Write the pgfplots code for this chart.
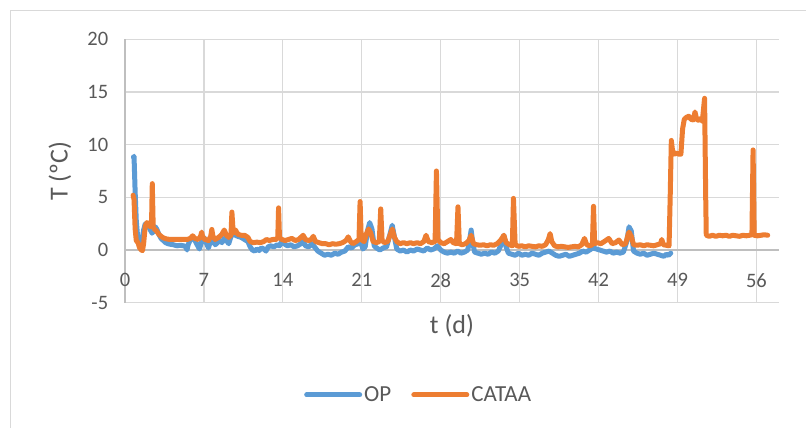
\documentclass[border=0pt]{standalone}
\usepackage{fontspec}
\setmainfont{Carlito}
\usepackage{pgfplots}
\pgfplotsset{compat=1.18}
\definecolor{opblue}{HTML}{5B9BD5}
\definecolor{cataa}{HTML}{ED7D31}
\definecolor{gridgray}{HTML}{D9D9D9}
\definecolor{axisgray}{HTML}{BFBFBF}
\definecolor{txtgray}{HTML}{595959}
\begin{document}
\begin{tikzpicture}[x=1pt,y=1pt]
\path[use as bounding box] (0,0) rectangle (806,428);
\fill[white] (0,0) rectangle (806,428);
\draw[gridgray, line width=1.2pt] (10.5,0) -- (10.5,417.5) -- (806,417.5);
\begin{axis}[
  at={(125pt,125.3pt)}, anchor=south west,
  scale only axis, width=654pt, height=263.4pt,
  xmin=0, xmax=58, ymin=-5, ymax=20,
  xtick={0,7,...,56}, ytick={-5,0,...,20},
  axis x line*=middle, axis y line*=left,
  hide obscured x ticks=false, hide obscured y ticks=false,
  axis line style={axisgray, line width=1.2pt},
  major tick length=0pt,
  grid=major, grid style={gridgray, line width=1.2pt},
  /pgf/number format/assume math mode=true,
  ticklabel style={font=\fontsize{20.5}{24}\selectfont, text=txtgray},
  xticklabel style={yshift=-20pt},
  yticklabel style={xshift=-13.3pt},
  xlabel={t (d)}, ylabel={T (ºC)},
  label style={font=\fontsize{26}{30}\selectfont, text=txtgray},
  xlabel style={at={(axis description cs:0.5,-0.0873)}, anchor=center},
  ylabel style={at={(axis description cs:-0.0994,0.5)}, anchor=center, rotate=0},
  legend style={at={(axis description cs:0.449,-0.350)}, anchor=center,
    draw=none, fill=none, font=\fontsize{23}{27}\selectfont, text=txtgray,
    /tikz/every even column/.append style={column sep=18pt}},
  legend columns=2,
  legend image code/.code={\draw[#1, line width=5pt, line cap=round] (0pt,0pt) -- (53pt,0pt);},
  every axis plot/.append style={line width=5pt, line join=round, line cap=round, no markers},
  clip=false,
]
\addplot[opblue] coordinates {
(0.75,8.8) (0.8,8.9) (0.9,5.5) (1.0,2.8) (1.1,1.5) (1.2,0.7) (1.35,0.3) (1.5,0.9) (1.65,1.9) (1.8,2.5)
(1.95,2.5) (2.1,2.2) (2.25,1.9) (2.4,1.6) (2.55,1.8) (2.7,2.2) (2.85,1.9) (3.0,1.5) (3.2,1.1) (3.4,0.9)
(3.6,0.7) (3.8,0.6) (4.0,0.55) (4.3,0.5) (4.6,0.4) (4.9,0.45) (5.2,0.4) (5.4,0.3) (5.5,0.0) (5.6,0.5)
(5.8,1.0) (6.0,1.1) (6.2,0.9) (6.4,0.5) (6.6,0.1) (6.8,0.8) (7.0,1.2) (7.2,0.7) (7.4,0.2) (7.6,0.9)
(7.8,1.0) (8.0,0.5) (8.2,0.7) (8.4,0.9) (8.6,0.7) (8.8,1.1) (9.0,0.9) (9.2,0.6) (9.4,1.3) (9.6,1.5)
(9.8,1.4) (10.0,1.3) (10.3,1.2) (10.6,1.0) (10.9,0.8) (11.1,0.3) (11.3,0.0) (11.5,-0.1) (11.7,0.1) (11.9,-0.05)
(12.1,0.2) (12.3,0.1) (12.5,-0.1) (12.7,0.3) (12.9,0.4) (13.2,0.3) (13.5,0.5) (13.7,0.4) (13.9,0.8) (14.1,0.6)
(14.4,0.4) (14.7,0.5) (15.0,0.3) (15.3,0.4) (15.6,0.6) (15.8,0.9) (16.0,0.4) (16.3,0.3) (16.6,0.6) (16.8,0.3)
(17.1,-0.1) (17.4,-0.3) (17.7,-0.5) (18.0,-0.4) (18.3,-0.5) (18.6,-0.3) (18.9,-0.4) (19.2,-0.2) (19.5,-0.1) (19.8,0.3)
(20.1,0.2) (20.4,0.5) (20.7,0.6) (20.9,0.8) (21.1,0.1) (21.3,0.3) (21.5,1.8) (21.7,2.6) (21.9,2.0) (22.1,0.4)
(22.3,0.2) (22.6,0.0) (22.9,0.2) (23.2,0.3) (23.5,1.5) (23.7,2.35) (23.9,1.2) (24.1,0.1) (24.4,-0.1) (24.7,0.0)
(25.0,-0.2) (25.3,0.0) (25.6,-0.1) (25.9,0.1) (26.2,0.0) (26.5,-0.1) (26.8,0.2) (27.1,0.0) (27.4,0.1) (27.7,0.4)
(28.0,0.0) (28.3,-0.2) (28.6,-0.3) (28.9,-0.2) (29.2,-0.3) (29.5,-0.1) (29.8,-0.3) (30.1,-0.2) (30.4,0.0) (30.6,1.2)
(30.7,1.9) (30.8,1.0) (31.0,-0.2) (31.3,-0.3) (31.6,-0.4) (31.9,-0.3) (32.2,-0.4) (32.5,-0.2) (32.8,-0.3) (33.1,-0.1)
(33.4,0.6) (33.6,1.4) (33.8,0.3) (34.0,-0.3) (34.3,-0.4) (34.6,-0.5) (34.9,-0.3) (35.2,-0.5) (35.5,-0.4) (35.8,-0.5)
(36.1,-0.3) (36.4,-0.4) (36.7,-0.5) (37.0,-0.3) (37.3,-0.2) (37.6,-0.1) (37.9,-0.3) (38.2,-0.5) (38.5,-0.6) (38.8,-0.5)
(39.1,-0.4) (39.4,-0.6) (39.7,-0.5) (40.0,-0.4) (40.3,-0.3) (40.6,-0.1) (40.9,-0.2) (41.2,0.0) (41.5,0.2) (41.8,0.1)
(42.1,0.0) (42.4,-0.1) (42.7,-0.2) (43.0,-0.1) (43.3,-0.3) (43.6,-0.2) (43.9,-0.3) (44.2,-0.2) (44.5,0.8) (44.7,2.2)
(44.9,1.8) (45.1,-0.1) (45.4,-0.3) (45.7,-0.4) (46.0,-0.3) (46.3,-0.5) (46.6,-0.4) (46.9,-0.3) (47.2,-0.4) (47.5,-0.5)
(47.8,-0.6) (48.0,-0.4) (48.2,-0.5) (48.4,-0.3)
};
\addlegendentry{OP}
\addplot[cataa] coordinates {
(0.72,5.2) (0.8,4.8) (0.9,2.0) (1.0,0.9) (1.15,0.7) (1.3,0.2) (1.45,0.0) (1.55,-0.05) (1.65,0.6) (1.8,2.3)
(1.95,2.6) (2.1,2.5) (2.25,2.2) (2.35,2.3) (2.42,6.3) (2.5,2.2) (2.6,2.0) (2.8,1.8) (3.0,1.5) (3.2,1.3)
(3.4,1.15) (3.7,1.05) (4.0,1.0) (4.5,1.0) (5.0,1.0) (5.5,1.0) (5.8,1.1) (6.0,1.35) (6.2,1.1) (6.5,1.0)
(6.7,1.3) (6.8,1.7) (6.9,1.2) (7.1,1.0) (7.4,0.9) (7.6,1.3) (7.7,1.95) (7.8,1.3) (8.0,1.0) (8.3,1.2)
(8.6,1.5) (8.8,1.9) (9.0,1.4) (9.2,1.2) (9.4,1.4) (9.48,3.6) (9.6,1.6) (9.8,1.9) (10.0,1.5) (10.3,1.4)
(10.6,1.4) (10.9,1.2) (11.1,0.8) (11.4,0.7) (11.7,0.75) (12.0,0.7) (12.3,0.8) (12.55,1.0) (12.8,0.9) (13.1,1.0)
(13.4,1.0) (13.55,1.2) (13.62,4.0) (13.7,1.2) (13.9,1.0) (14.2,0.9) (14.5,1.0) (14.8,1.1) (15.1,0.9) (15.4,1.0)
(15.6,1.2) (15.8,1.4) (16.0,1.0) (16.3,0.9) (16.5,1.0) (16.7,1.3) (16.9,0.8) (17.2,0.7) (17.5,0.6) (17.8,0.6)
(18.1,0.5) (18.4,0.6) (18.7,0.55) (19.0,0.6) (19.3,0.7) (19.6,0.9) (19.8,1.25) (20.0,0.8) (20.2,0.6) (20.5,0.8)
(20.75,1.0) (20.85,4.6) (20.95,1.0) (21.2,0.8) (21.4,1.5) (21.6,2.0) (21.8,1.6) (22.0,0.8) (22.3,0.7) (22.55,0.8)
(22.68,3.9) (22.8,0.9) (23.0,0.7) (23.3,0.8) (23.5,1.4) (23.7,2.0) (23.9,1.2) (24.1,0.8) (24.4,0.6) (24.7,0.7)
(25.0,0.6) (25.3,0.7) (25.6,0.6) (25.9,0.7) (26.2,0.6) (26.5,0.8) (26.7,1.4) (26.9,0.8) (27.2,0.7) (27.5,0.8)
(27.62,7.5) (27.75,1.0) (28.0,0.7) (28.3,0.6) (28.6,0.8) (28.9,1.0) (29.1,0.7) (29.4,0.6) (29.53,4.1) (29.65,0.6)
(29.9,0.5) (30.2,0.6) (30.5,0.9) (30.7,1.4) (30.9,0.6) (31.2,0.5) (31.5,0.45) (31.8,0.5) (32.1,0.4) (32.4,0.5)
(32.7,0.45) (33.0,0.6) (33.3,0.9) (33.6,1.4) (33.8,0.7) (34.1,0.5) (34.35,0.4) (34.45,4.9) (34.6,0.5) (34.9,0.35)
(35.2,0.4) (35.5,0.3) (35.8,0.4) (36.1,0.35) (36.4,0.3) (36.7,0.4) (37.0,0.35) (37.3,0.5) (37.55,1.0) (37.7,1.56)
(37.85,0.8) (38.1,0.4) (38.4,0.3) (38.7,0.35) (39.0,0.3) (39.3,0.25) (39.6,0.3) (39.9,0.35) (40.2,0.3) (40.5,0.5)
(40.75,1.1) (40.95,0.5) (41.2,0.4) (41.45,0.5) (41.55,4.15) (41.65,0.6) (41.9,0.7) (42.2,0.6) (42.5,0.8) (42.9,1.1)
(43.2,0.6) (43.5,0.7) (43.8,0.95) (44.1,0.5) (44.4,0.6) (44.6,1.4) (44.7,1.7) (44.9,1.3) (45.1,0.5) (45.4,0.45)
(45.7,0.5) (46.0,0.4) (46.3,0.5) (46.6,0.45) (46.9,0.4) (47.2,0.5) (47.5,0.6) (47.6,1.0) (47.75,0.5) (48.0,0.45)
(48.25,0.4) (48.35,5.0) (48.45,10.4) (48.55,9.5) (48.7,9.1) (48.9,9.2) (49.1,9.1) (49.3,9.1) (49.45,11.5) (49.6,12.4)
(49.8,12.6) (50.0,12.7) (50.2,12.4) (50.4,12.35) (50.55,13.1) (50.7,12.4) (50.9,12.3) (51.1,12.5) (51.2,12.2) (51.4,14.4)
(51.5,5.0) (51.55,1.4) (51.8,1.3) (52.1,1.4) (52.4,1.3) (52.7,1.4) (53.0,1.35) (53.3,1.4) (53.6,1.3) (53.9,1.4)
(54.2,1.35) (54.5,1.3) (54.8,1.4) (55.1,1.35) (55.4,1.4) (55.6,1.45) (55.7,9.5) (55.8,1.4) (56.1,1.35) (56.4,1.4)
(56.7,1.45) (57.0,1.4)
};
\addlegendentry{CATAA}
\end{axis}
\end{tikzpicture}
\end{document}
